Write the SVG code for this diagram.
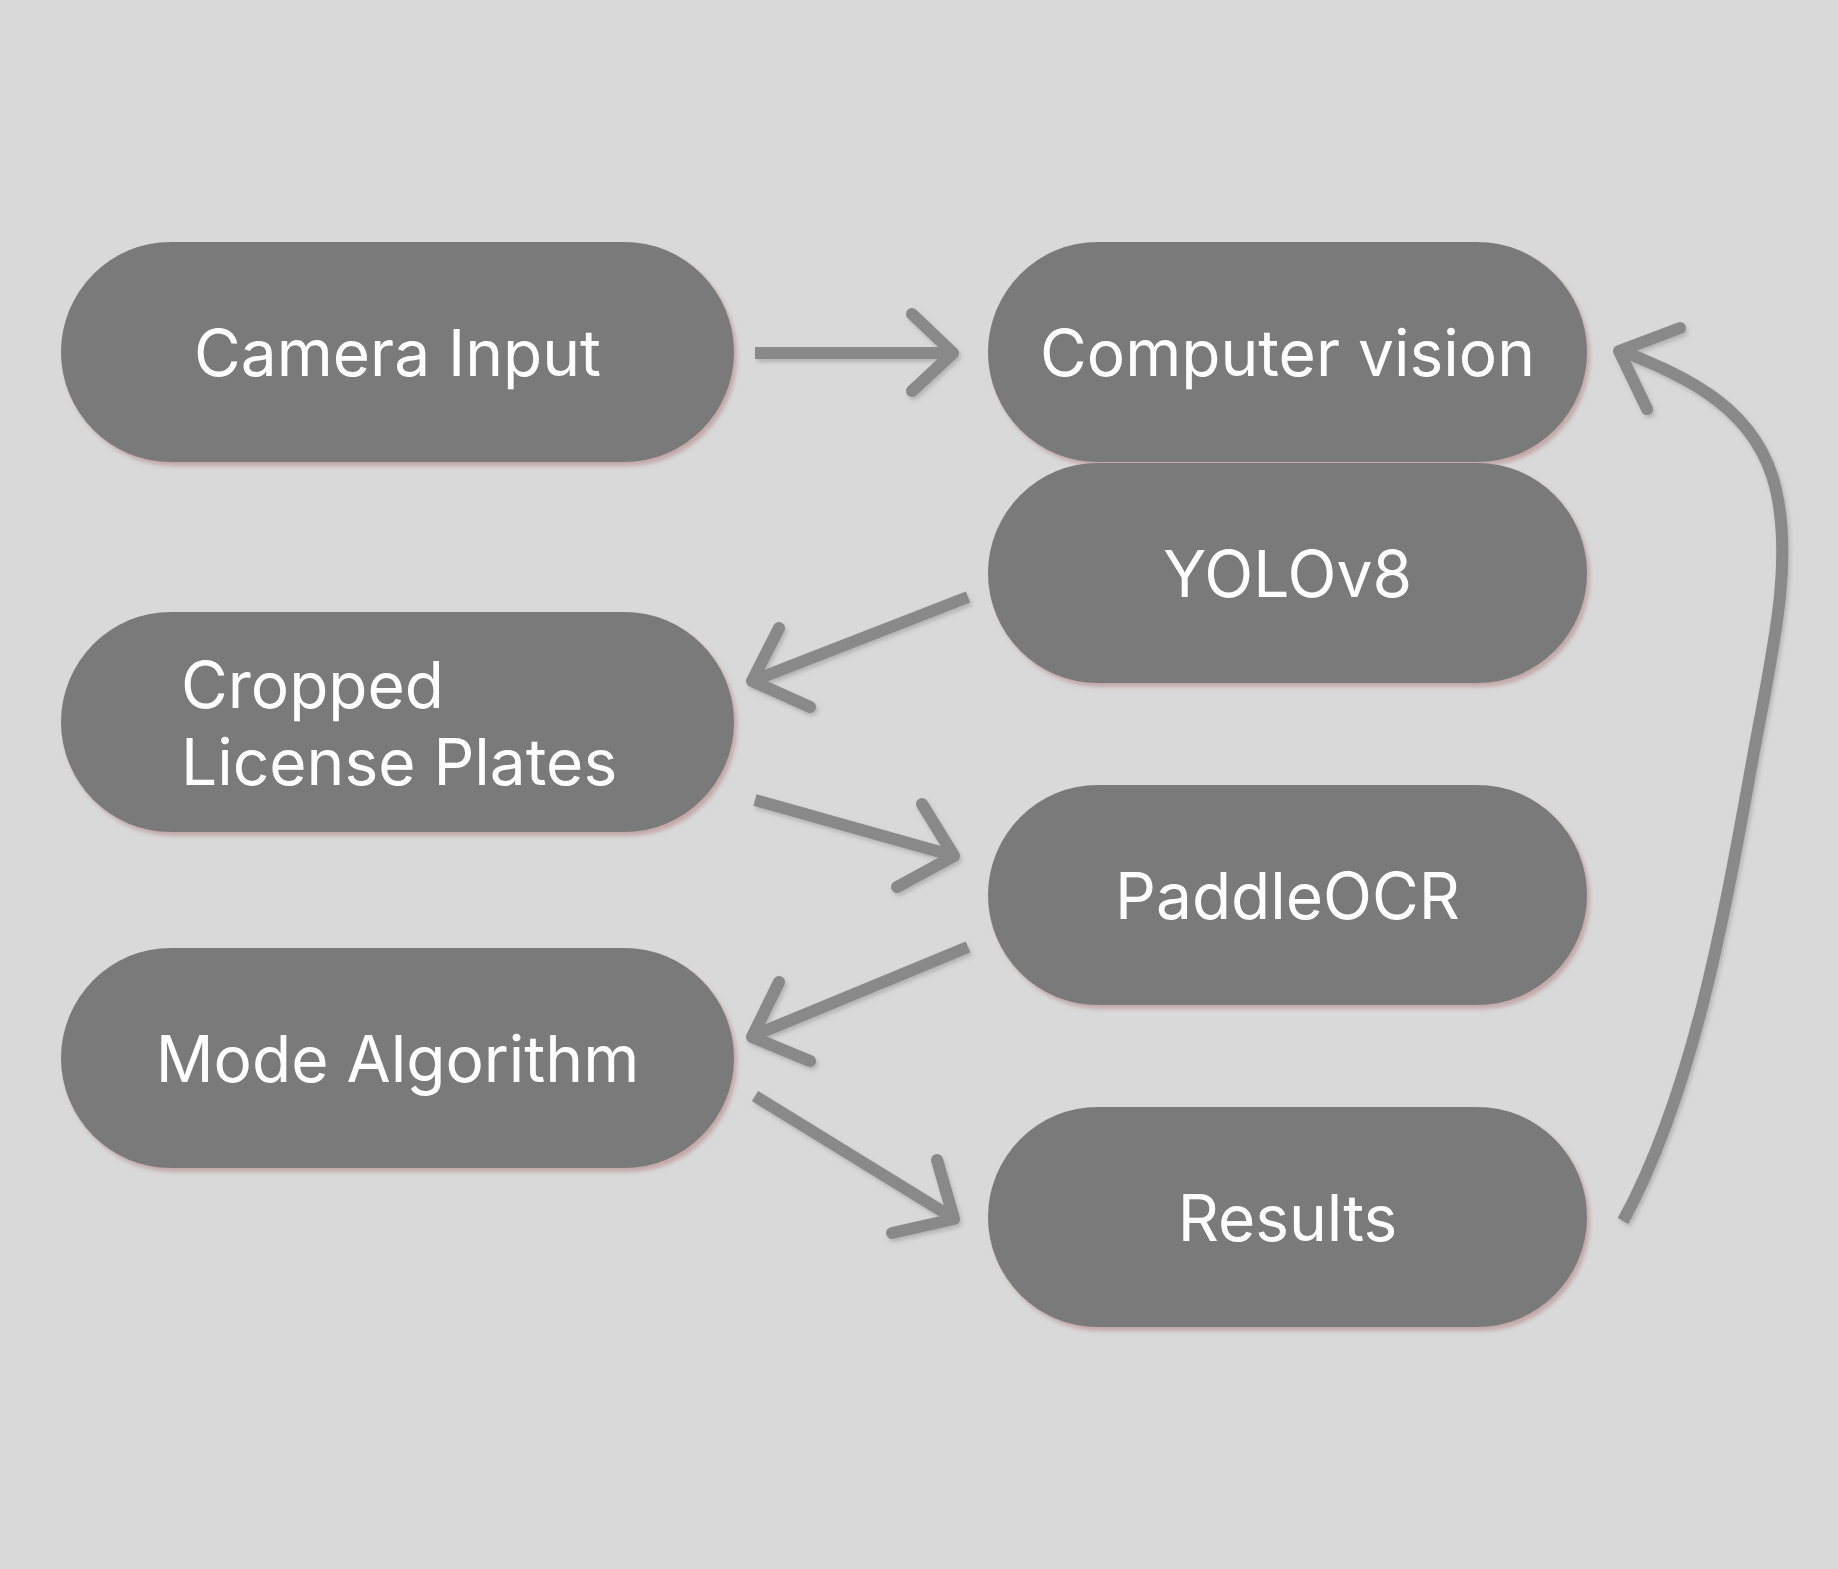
<svg xmlns="http://www.w3.org/2000/svg" width="1838" height="1569" viewBox="0 0 1838 1569">
<defs>
<filter id="nshadow" x="-10%" y="-10%" width="120%" height="130%">
<feDropShadow dx="3" dy="4" stdDeviation="2" flood-color="#b07f7f" flood-opacity="0.55"/>
</filter>
<filter id="ashadow" x="-10%" y="-10%" width="120%" height="120%">
<feDropShadow dx="2" dy="3" stdDeviation="2" flood-color="#6f6f6f" flood-opacity="0.35"/>
</filter>
</defs>
<style>
.node{fill:#7a7a7a;filter:url(#nshadow)}
.lbl{fill:#ffffff;font-family:Inter,"Liberation Sans",sans-serif;font-size:64px;text-anchor:middle}
.lbl-left{text-anchor:start}
.shaft{fill:none;stroke:#898989;stroke-width:12;stroke-linecap:butt}
.head{fill:none;stroke:#898989;stroke-width:12;stroke-linecap:round;stroke-linejoin:round}
</style>
<rect width="1838" height="1569" fill="#d9d9d9"/>
<g id="connectors" filter="url(#ashadow)">
<path class="shaft" d="M755,353 L952,353"/>
<path class="head" d="M912,314 L953,353 L912,391"/>
<path class="shaft" d="M968,597 L755,680"/>
<path class="head" d="M779,628 L752,681 L810,707"/>
<path class="shaft" d="M755,800 L951,855"/>
<path class="head" d="M922,804 L954,856 L897,887"/>
<path class="shaft" d="M968,947 L755,1035"/>
<path class="head" d="M779,982 L752,1037 L810,1061"/>
<path class="shaft" d="M755,1096 L950,1216"/>
<path class="head" d="M937,1160 L954,1219 L892,1233"/>
<path class="shaft" d="M1623,1221 C1700,1080 1730,880 1757,735 C1775,640 1792,560 1776,490 C1758,410 1690,378 1622,351"/>
<path class="head" d="M1680,328 L1619,351 L1647,409"/>
</g>
<g id="node-camera-input">
<rect class="node" x="61" y="242" width="673" height="220" rx="110"/>
<text class="lbl" x="397.5" y="376">Camera Input</text>
</g>
<g id="node-computer-vision">
<rect class="node" x="988" y="242" width="599" height="220" rx="110"/>
<text class="lbl" x="1287.5" y="376">Computer vision</text>
</g>
<g id="node-yolov8">
<rect class="node" x="988" y="463" width="599" height="220" rx="110"/>
<text class="lbl" x="1287.5" y="597">YOLOv8</text>
</g>
<g id="node-cropped">
<rect class="node" x="61" y="612" width="673" height="220" rx="110"/>
<text class="lbl lbl-left" x="181" y="708">Cropped</text>
<text class="lbl lbl-left" x="181" y="785">License Plates</text>
</g>
<g id="node-paddleocr">
<rect class="node" x="988" y="785" width="599" height="220" rx="110"/>
<text class="lbl" x="1287.5" y="919">PaddleOCR</text>
</g>
<g id="node-mode">
<rect class="node" x="61" y="948" width="673" height="220" rx="110"/>
<text class="lbl" x="397.5" y="1082">Mode Algorithm</text>
</g>
<g id="node-results">
<rect class="node" x="988" y="1107" width="599" height="220" rx="110"/>
<text class="lbl" x="1287.5" y="1241">Results</text>
</g>
</svg>
